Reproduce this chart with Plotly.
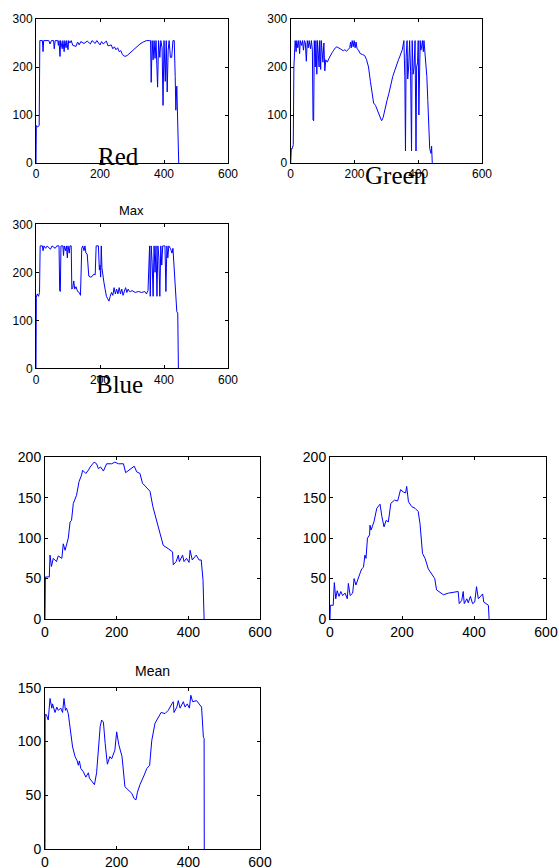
import plotly.graph_objects as go

# ---- channel profiles (position vs intensity) ----
red_x = [0, 1, 5, 10, 12, 20, 22, 24, 40, 44, 48, 55, 57, 60, 68, 70, 72, 75, 77, 82, 84, 88, 90, 94, 96,
         100, 102, 106, 110, 115, 125, 130, 135, 140, 150, 160, 170, 175, 185, 190, 200, 205, 210, 220, 225,
         235, 240, 245, 250, 255, 260, 265, 270, 278, 285, 295, 305, 315, 325, 335, 345, 355, 358, 360, 363,
         366, 369, 372, 375, 380, 383, 387, 390, 394, 397, 400, 404, 407, 410, 413, 416, 420, 424, 428, 432,
         435, 437, 440, 442, 444, 446]
red_y = [0, 78, 75, 78, 255, 255, 232, 255, 255, 248, 255, 255, 238, 255, 255, 245, 255, 222, 255, 238, 255,
         232, 255, 240, 255, 236, 255, 250, 255, 245, 243, 252, 246, 253, 249, 254, 248, 255, 249, 255, 246,
         253, 248, 254, 244, 246, 238, 242, 236, 240, 232, 234, 226, 222, 224, 230, 238, 242, 248, 252, 255,
         255, 255, 168, 255, 215, 255, 218, 255, 158, 255, 220, 255, 240, 120, 255, 170, 255, 148, 235, 255,
         220, 220, 255, 255, 180, 110, 160, 80, 40, 0]

green_x = [0, 2, 5, 8, 10, 12, 14, 17, 19, 22, 25, 28, 30, 34, 37, 40, 43, 46, 49, 52, 55, 58, 62, 65, 68,
           70, 72, 74, 77, 79, 82, 84, 87, 89, 91, 94, 96, 99, 101, 104, 107, 110, 115, 120, 125, 130, 135,
           140, 145, 150, 155, 160, 165, 170, 175, 180, 185, 188, 190, 193, 196, 199, 202, 205, 208, 212, 218,
           225, 232, 238, 244, 250, 255, 260, 266, 272, 278, 285, 290, 296, 302, 308, 314, 320, 326, 332, 338,
           344, 350, 355, 358, 360, 362, 365, 367, 370, 373, 376, 379, 381, 384, 387, 390, 393, 395, 398, 400,
           402, 404, 406, 408, 410, 413, 416, 418, 421, 424, 427, 430, 433, 436, 440, 442, 444]
green_y = [0, 30, 30, 38, 200, 250, 255, 232, 255, 240, 255, 228, 255, 245, 255, 235, 255, 250, 212, 255, 240,
           255, 238, 255, 235, 90, 88, 255, 200, 255, 185, 255, 225, 200, 255, 195, 255, 230, 210, 250, 192,
           215, 210, 218, 225, 230, 235, 240, 242, 240, 238, 236, 234, 236, 233, 236, 240, 252, 240, 255, 242,
           255, 240, 252, 238, 236, 228, 226, 224, 215, 200, 170, 148, 125, 120, 110, 100, 88, 95, 115, 130,
           145, 165, 180, 192, 205, 215, 225, 236, 255, 180, 25, 220, 255, 175, 200, 255, 190, 25, 255, 185,
           200, 255, 25, 200, 210, 255, 100, 210, 255, 235, 238, 255, 232, 255, 235, 200, 180, 130, 90, 30,
           20, 35, 0]

max_x = [0, 1, 4, 8, 11, 13, 20, 22, 25, 30, 35, 45, 50, 60, 65, 72, 74, 76, 78, 84, 86, 88, 92, 95, 98, 100,
         104, 106, 110, 112, 115, 118, 121, 125, 130, 135, 139, 141, 143, 146, 150, 153, 156, 160, 163, 165,
         170, 175, 180, 185, 188, 195, 198, 200, 202, 204, 206, 208, 212, 216, 220, 224, 228, 232, 236, 240,
         244, 248, 252, 256, 260, 264, 268, 272, 276, 280, 284, 288, 292, 296, 300, 310, 320, 330, 340, 345,
         350, 352, 355, 357, 360, 363, 366, 369, 372, 375, 378, 381, 384, 387, 390, 393, 396, 400, 403, 406,
         409, 412, 415, 420, 425, 428, 432, 436, 440, 443, 445]
max_y = [0, 148, 155, 150, 158, 255, 255, 245, 255, 250, 255, 248, 255, 250, 255, 255, 162, 160, 255, 255,
         235, 255, 245, 255, 230, 255, 240, 255, 255, 165, 168, 182, 165, 170, 160, 158, 152, 200, 250, 255,
         245, 255, 240, 238, 205, 192, 190, 191, 196, 195, 255, 255, 205, 215, 190, 255, 210, 195, 180, 165,
         150, 145, 140, 150, 158, 152, 168, 155, 165, 155, 168, 155, 165, 152, 162, 168, 158, 165, 160, 160,
         162, 158, 160, 158, 160, 155, 162, 195, 255, 150, 255, 220, 150, 255, 200, 255, 150, 255, 230, 150,
         255, 215, 255, 255, 255, 160, 255, 230, 255, 250, 240, 250, 200, 152, 118, 115, 0]

# ---- second set of profiles ----
lower_left_x = [0, 1, 12, 14, 18, 23, 32, 37, 47, 51, 56, 65, 70, 74, 79, 88, 95, 102, 105, 114, 121, 126,
                137, 144, 149, 155, 163, 172, 186, 195, 205, 219, 225, 237, 249, 256, 265, 272, 284, 293, 301,
                307, 316, 321, 330, 344, 356, 358, 366, 372, 375, 384, 388, 395, 402, 405, 411, 422, 430, 436,
                441, 444]
lower_left_y = [0, 52, 52, 79, 65, 75, 71, 78, 75, 93, 85, 100, 120, 122, 143, 153, 170, 178, 184, 180, 184,
                188, 194, 192, 186, 188, 183, 192, 192, 194, 192, 192, 181, 185, 189, 182, 180, 168, 162, 158,
                139, 129, 116, 106, 91, 87, 83, 67, 71, 79, 71, 79, 71, 75, 70, 85, 73, 79, 73, 73, 48, 0]

lower_right_x = [0, 1, 9, 12, 16, 20, 25, 30, 35, 42, 48, 51, 56, 63, 67, 72, 83, 88, 93, 97, 100, 104, 110,
                 111, 114, 122, 130, 139, 144, 150, 156, 162, 169, 179, 188, 196, 204, 210, 213, 218, 227, 236,
                 245, 250, 257, 264, 273, 282, 291, 296, 305, 315, 329, 343, 356, 359, 366, 370, 373, 380, 384,
                 390, 396, 402, 407, 412, 418, 424, 427, 433, 440, 442]
lower_right_y = [0, 17, 17, 45, 25, 35, 28, 34, 29, 32, 25, 44, 29, 32, 50, 42, 56, 62, 64, 79, 75, 100, 104,
                 116, 110, 120, 137, 142, 127, 114, 122, 120, 143, 147, 146, 160, 157, 156, 164, 145, 139, 137,
                 133, 118, 81, 75, 62, 56, 50, 36, 33, 30, 32, 33, 34, 19, 23, 34, 19, 25, 20, 28, 19, 21, 40,
                 25, 28, 31, 21, 19, 17, 0]

mean_x = [0, 0.5, 4, 9, 14, 19, 21, 28, 33, 37, 44, 49, 53, 57, 60, 65, 68, 72, 77, 84, 90, 93, 96, 100, 107,
          114, 121, 124, 130, 138, 144, 149, 154, 158, 163, 168, 174, 181, 186, 195, 200, 206, 210, 215, 223,
          233, 242, 249, 254, 258, 265, 277, 284, 292, 298, 307, 316, 324, 335, 344, 354, 358, 360, 368, 372,
          377, 386, 391, 397, 403, 407, 412, 423, 431, 437, 442, 444, 444.5]
mean_y = [0, 125, 125, 120, 140, 131, 135, 127, 132, 129, 131, 127, 140, 129, 131, 126, 118, 106, 95, 86, 82,
          78, 82, 75, 72, 67, 71, 66, 63, 60, 71, 92, 114, 120, 118, 98, 79, 86, 84, 92, 109, 97, 91, 86, 58,
          55, 52, 47, 46, 53, 60, 69, 75, 78, 101, 117, 123, 127, 126, 129, 135, 137, 127, 132, 138, 131, 137,
          132, 135, 131, 143, 137, 138, 135, 132, 104, 103, 0]

series = [
    (red_x, red_y),
    (green_x, green_y),
    (max_x, max_y),
    (lower_left_x, lower_left_y),
    (lower_right_x, lower_right_y),
    (mean_x, mean_y),
]

W, H = 559, 868
# plot boxes in pixels: (left, right, top, bottom)
boxes = [
    (36, 228, 19, 163),
    (290.7, 482, 19, 163),
    (36, 228, 224.3, 368.3),
    (45, 260, 457.3, 619),
    (330, 546, 457.3, 619),
    (45, 260, 687.7, 849.3),
]
y_ranges = [(0, 300, 100), (0, 300, 100), (0, 300, 100), (0, 200, 50), (0, 200, 50), (0, 150, 50)]
tick_sizes = [12, 12, 12, 14, 14, 14]

fig = go.Figure()
layout = dict(
    width=W, height=H, margin=dict(l=0, r=0, t=0, b=0, autoexpand=False),
    paper_bgcolor="white", plot_bgcolor="white", showlegend=False,
    font=dict(family="Liberation Sans, Arial, sans-serif", color="black"),
)

for i, ((xs, ys), (l, r, t, b), (y0, y1, dy), fs) in enumerate(zip(series, boxes, y_ranges, tick_sizes)):
    n = "" if i == 0 else str(i + 1)
    fig.add_trace(go.Scatter(x=xs, y=ys, mode="lines", line=dict(color="#0000FF", width=1),
                             xaxis="x" + n, yaxis="y" + n, hoverinfo="skip"))
    axis_common = dict(showline=True, linecolor="black", linewidth=1, mirror="ticks",
                       ticks="inside", ticklen=3, tickcolor="black", tickwidth=1,
                       showgrid=False, zeroline=False, automargin=False,
                       tickfont=dict(size=fs, color="black"))
    layout["xaxis" + n] = dict(domain=[l / W, r / W], range=[0, 600], tickvals=[0, 200, 400, 600],
                               anchor="y" + n, **axis_common)
    layout["yaxis" + n] = dict(domain=[1 - b / H, 1 - t / H], range=[y0, y1],
                               tickvals=list(range(y0, y1 + 1, dy)), anchor="x" + n, **axis_common)

fig.update_layout(**layout)


def label(text, cx, cy, size, family):
    fig.add_annotation(text=text, x=cx / W, y=1 - cy / H, xref="paper", yref="paper",
                       xanchor="center", yanchor="middle", showarrow=False,
                       font=dict(size=size, family=family, color="black"))


# panel titles
label("Max", 131, 210, 13, "Liberation Sans, Arial")
label("Mean", 152, 670.5, 14, "Liberation Sans, Arial")

# channel captions
serif = "Liberation Serif, Times New Roman, serif"
label("Red", 118, 156, 25, serif)
label("Green", 396, 175, 25, serif)
label("Blue", 119, 384, 25, serif)

fig.write_html("out.html")
